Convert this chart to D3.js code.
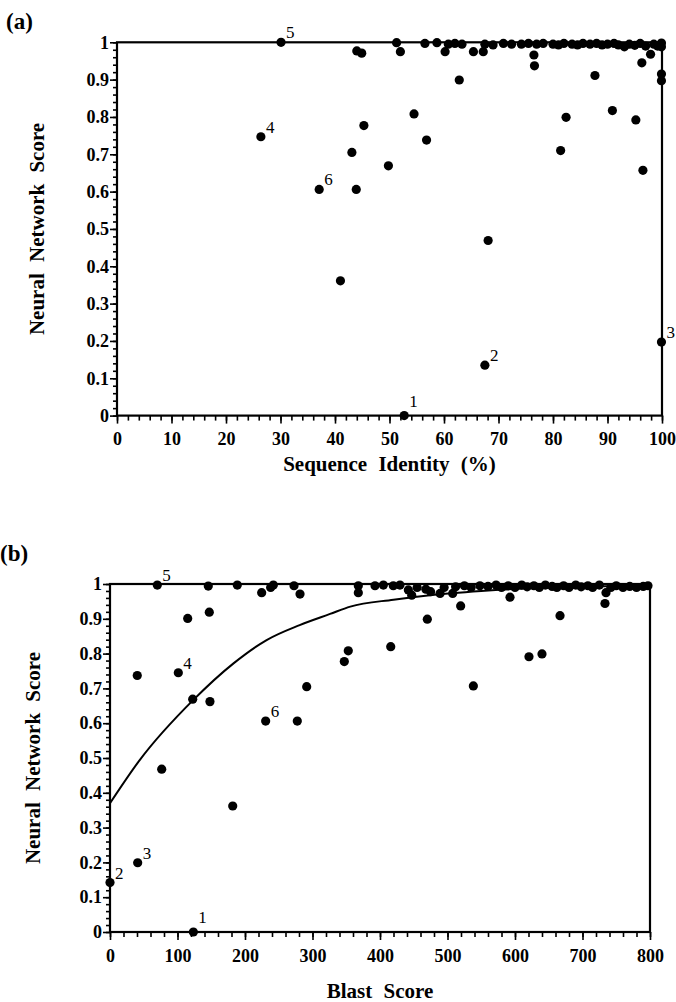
<!DOCTYPE html>
<html>
<head>
<meta charset="utf-8">
<script src="https://cdn.jsdelivr.net/npm/d3@7"></script>
<style>
    body { margin: 0; background: #fff; }
    svg { display: block; }
    text { font-family: "Liberation Serif", "DejaVu Serif", serif; fill: #000; }
    .tick text { font-weight: bold; font-size: 18px; }
    .axis-title { font-weight: bold; font-size: 21px; word-spacing: 6px; }
    .panel-label { font-weight: bold; font-size: 23px; }
    .pt-label { font-size: 17px; }
</style>
</head>
<body>
<script>
/**
 * Data: panel (a), neural network score vs sequence identity (%).
 */
const identityLabelled = [[52.7, 0.0], [67.5, 0.135], [99.9, 0.197], [26.4, 0.747], [30.1, 1.0], [37.1, 0.606]];
const identityLabels = ['1', '2', '3', '4', '5', '6'];
const identityPoints = [
    [45.3, 0.777], [54.5, 0.808], [43.1, 0.705], [56.8, 0.738], [49.8, 0.669], [43.9, 0.606],
    [68.1, 0.469], [41.0, 0.361], [62.8, 0.899], [76.6, 0.937], [87.7, 0.911], [96.3, 0.945],
    [99.9, 0.915], [99.9, 0.897], [82.4, 0.799], [90.9, 0.817], [95.2, 0.792], [81.4, 0.710],
    [96.5, 0.657], [44.0, 0.977], [44.9, 0.971], [51.3, 0.999], [52.0, 0.975], [56.5, 0.997],
    [58.7, 0.999], [60.2, 0.975], [60.8, 0.995], [62.0, 0.997], [63.3, 0.995], [65.4, 0.975],
    [67.2, 0.975], [67.5, 0.995], [69.0, 0.993], [70.9, 0.997], [72.4, 0.995], [74.2, 0.995],
    [75.5, 0.997], [76.5, 0.966], [77.0, 0.995], [78.2, 0.997], [80.0, 0.995], [81.0, 0.993],
    [82.0, 0.997], [83.5, 0.995], [84.5, 0.993], [85.5, 0.997], [86.8, 0.995], [88.0, 0.997],
    [89.0, 0.993], [90.0, 0.995], [91.2, 0.997], [92.0, 0.993], [93.1, 0.988], [94.0, 0.995],
    [95.0, 0.992], [96.0, 0.997], [97.0, 0.990], [97.9, 0.968], [98.5, 0.995], [99.2, 0.990],
    [99.9, 0.988], [99.9, 0.998]
];
const identityTicks = [0, 10, 20, 30, 40, 50, 60, 70, 80, 90, 100];

/**
 * Data: panel (b), neural network score vs blast score.
 */
const blastLabelled = [[123.5, 0.0], [0, 0.142], [41, 0.199], [101.2, 0.745], [70.1, 0.997], [230.6, 0.606]];
const blastLabels = ['1', '2', '3', '4', '5', '6'];
const blastPoints = [
    [115.1, 0.901], [147.1, 0.919], [40.4, 0.737], [122.5, 0.669], [148.1, 0.662], [277.5, 0.606],
    [291.4, 0.705], [76.6, 0.468], [181.8, 0.362], [347.1, 0.777], [353, 0.808], [415.9, 0.820],
    [538.3, 0.707], [620.7, 0.791], [640, 0.799], [470.1, 0.899], [519.5, 0.937], [666.7, 0.909],
    [733.3, 0.944], [592.6, 0.962], [145.6, 0.994], [188.6, 0.997], [224.7, 0.975], [238, 0.990],
    [242, 0.997], [272.6, 0.995], [281.5, 0.971], [367.9, 0.995], [367.9, 0.975], [392.6, 0.995],
    [405, 0.997], [419.7, 0.995], [429.6, 0.997], [442, 0.983], [447, 0.968], [455, 0.990],
    [468, 0.985], [475, 0.978], [489, 0.973], [495, 0.990], [507.7, 0.973], [512, 0.992],
    [525, 0.995], [535, 0.990], [548, 0.995], [560, 0.993], [572, 0.997], [580, 0.990],
    [590, 0.995], [600, 0.990], [610, 0.997], [618, 0.992], [628, 0.995], [636, 0.990],
    [645, 0.997], [655, 0.993], [662, 0.990], [672, 0.995], [680, 0.990], [690, 0.997],
    [698, 0.992], [708, 0.995], [715, 0.990], [725, 0.997], [734.8, 0.975], [742, 0.990],
    [750, 0.995], [760, 0.990], [770, 0.993], [780, 0.990], [790, 0.993], [797, 0.995]
];
const blastTicks = [0, 100, 200, 300, 400, 500, 600, 700, 800];

// Fitted curve of panel (b)
const fitX = [0, 44, 123.5, 183, 232, 281, 326, 356, 420, 474, 550, 650, 800];
const fitY = [0.370, 0.494, 0.667, 0.772, 0.839, 0.882, 0.914, 0.935, 0.955, 0.968, 0.980, 0.990, 0.995];

const scoreTicks = [0, 0.1, 0.2, 0.3, 0.4, 0.5, 0.6, 0.7, 0.8, 0.9, 1];
const scoreTickLabels = ['0', '0.1', '0.2', '0.3', '0.4', '0.5', '0.6', '0.7', '0.8', '0.9', '1'];

/**
 * Visual configs.
 */
const visWidth = 676, visHeight = 1002,
    dotRadius = 4.6,
    majorTick = 7, minorTick = 4;

const svg = d3.select('body').append('svg')
    .attr('width', visWidth)
    .attr('height', visHeight);

drawPanel({
    label: '(a)', labelPos: [6, 29],
    xRange: [117, 662], yRange: [415.6, 42.3],
    xDomain: [0, 100], xTicks: identityTicks, xMinorStep: 2,
    xTitle: 'Sequence Identity (%)', xTitleY: 471,
    yTitleX: 37,
    points: identityPoints, labelled: identityLabelled, labels: identityLabels
});

drawPanel({
    label: '(b)', labelPos: [0, 561],
    xRange: [110, 650], yRange: [932, 584],
    xDomain: [0, 800], xTicks: blastTicks, xMinorStep: 20,
    xTitle: 'Blast Score', xTitleY: 998,
    yTitleX: 33,
    points: blastPoints, labelled: blastLabelled, labels: blastLabels,
    fit: fitX.map((x, i) => [x, fitY[i]])
});

function drawPanel(cfg) {
    const x = d3.scaleLinear().domain(cfg.xDomain).range(cfg.xRange),
        y = d3.scaleLinear().domain([0, 1]).range(cfg.yRange);
    const g = svg.append('g');

    // Minor ticks
    const xMinor = d3.range(cfg.xDomain[0], cfg.xDomain[1] + 1e-9, cfg.xMinorStep),
        yMinor = d3.range(0, 1.0001, 0.02);

    g.append('g')
        .attr('transform', 'translate(0,' + cfg.yRange[0] + ')')
        .call(d3.axisBottom(x).tickValues(xMinor).tickSize(minorTick + 1).tickFormat(''))
        .call(s => s.select('.domain').remove());
    g.append('g')
        .attr('transform', 'translate(' + cfg.xRange[0] + ',0)')
        .call(d3.axisLeft(y).tickValues(yMinor).tickSize(minorTick).tickFormat(''))
        .call(s => s.select('.domain').remove());

    // Major ticks
    g.append('g')
        .attr('transform', 'translate(0,' + cfg.yRange[0] + ')')
        .call(d3.axisBottom(x).tickValues(cfg.xTicks).tickSize(majorTick + 1).tickPadding(9))
        .call(s => s.select('.domain').remove());
    g.append('g')
        .attr('transform', 'translate(' + cfg.xRange[0] + ',0)')
        .call(d3.axisLeft(y).tickValues(scoreTicks).tickSize(majorTick)
            .tickFormat((d, i) => scoreTickLabels[i]).tickPadding(1))
        .call(s => s.select('.domain').remove());

    g.selectAll('.tick line').attr('stroke', '#000').attr('stroke-width', 1.6);

    // Frame
    g.append('rect')
        .attr('x', cfg.xRange[0]).attr('y', cfg.yRange[1])
        .attr('width', cfg.xRange[1] - cfg.xRange[0])
        .attr('height', cfg.yRange[0] - cfg.yRange[1])
        .attr('fill', 'none').attr('stroke', '#000').attr('stroke-width', 2.2);

    // Fitted curve
    if (cfg.fit) {
        g.append('path')
            .datum(cfg.fit)
            .attr('fill', 'none').attr('stroke', '#000').attr('stroke-width', 2)
            .attr('d', d3.line().x(d => x(d[0])).y(d => y(d[1])).curve(d3.curveMonotoneX));
    }

    // Points
    g.append('g').selectAll('circle')
        .data(cfg.points.concat(cfg.labelled))
        .join('circle')
            .attr('cx', d => x(d[0]))
            .attr('cy', d => y(d[1]))
            .attr('r', dotRadius)
            .attr('fill', '#000');

    g.append('g').selectAll('text')
        .data(cfg.labelled)
        .join('text')
            .attr('class', 'pt-label')
            .attr('x', d => x(d[0]) + 5)
            .attr('y', d => y(d[1]) - (d[1] === 0 ? 9 : 4))
            .text((d, i) => cfg.labels[i]);

    // Titles
    g.append('text').attr('class', 'axis-title')
        .attr('x', (cfg.xRange[0] + cfg.xRange[1]) / 2)
        .attr('y', cfg.xTitleY)
        .attr('text-anchor', 'middle')
        .text(cfg.xTitle);
    g.append('text').attr('class', 'axis-title')
        .attr('transform', 'translate(' + cfg.yTitleX + ',' + (cfg.yRange[0] + cfg.yRange[1]) / 2 + ') rotate(-90)')
        .attr('text-anchor', 'middle')
        .attr('dy', '0.35em')
        .text('Neural Network Score');
    g.append('text').attr('class', 'panel-label')
        .attr('x', cfg.labelPos[0]).attr('y', cfg.labelPos[1])
        .text(cfg.label);
}
</script>
</body>
</html>
